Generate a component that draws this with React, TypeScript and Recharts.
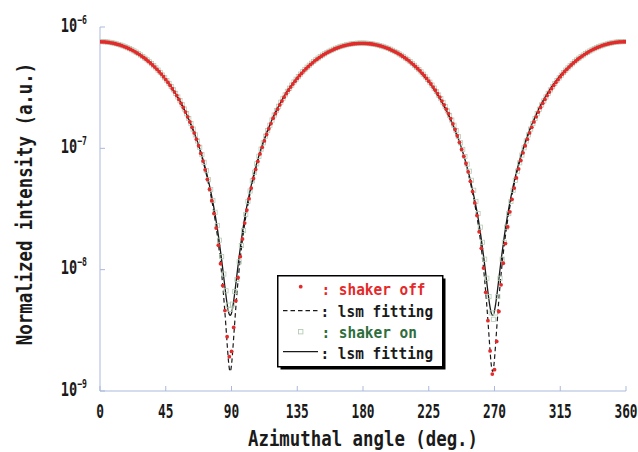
import React from 'react';
import { ComposedChart, Scatter, Line, XAxis, YAxis } from 'recharts';

// Azimuthal angle (deg.) of the "shaker off" points
const offAngles = [
  0, 1.5, 3, 4.5, 6, 7.5, 9, 10.5, 12, 13.5, 15, 16.5, 18, 19.5, 21, 22.5, 24, 25.5, 27, 28.5,
  30, 31.5, 33, 34.5, 36, 37.5, 39, 40.5, 42, 43.5, 45, 46.5, 48, 49.5, 51, 52.5, 54, 55.5, 57, 58.5,
  60, 61.5, 63, 64.5, 66, 67.5, 69, 70.5, 72, 73.5, 75, 76.5, 78, 79.5, 81, 82.5, 84, 85.5, 87, 88.5,
  90, 91.5, 93, 94.5, 96, 97.5, 99, 100.5, 102, 103.5, 105, 106.5, 108, 109.5, 111, 112.5, 114, 115.5, 117, 118.5,
  120, 121.5, 123, 124.5, 126, 127.5, 129, 130.5, 132, 133.5, 135, 136.5, 138, 139.5, 141, 142.5, 144, 145.5, 147, 148.5,
  150, 151.5, 153, 154.5, 156, 157.5, 159, 160.5, 162, 163.5, 165, 166.5, 168, 169.5, 171, 172.5, 174, 175.5, 177, 178.5,
  180, 181.5, 183, 184.5, 186, 187.5, 189, 190.5, 192, 193.5, 195, 196.5, 198, 199.5, 201, 202.5, 204, 205.5, 207, 208.5,
  210, 211.5, 213, 214.5, 216, 217.5, 219, 220.5, 222, 223.5, 225, 226.5, 228, 229.5, 231, 232.5, 234, 235.5, 237, 238.5,
  240, 241.5, 243, 244.5, 246, 247.5, 249, 250.5, 252, 253.5, 255, 256.5, 258, 259.5, 261, 262.5, 264, 265.5, 267, 268.5,
  270, 271.5, 273, 274.5, 276, 277.5, 279, 280.5, 282, 283.5, 285, 286.5, 288, 289.5, 291, 292.5, 294, 295.5, 297, 298.5,
  300, 301.5, 303, 304.5, 306, 307.5, 309, 310.5, 312, 313.5, 315, 316.5, 318, 319.5, 321, 322.5, 324, 325.5, 327, 328.5,
  330, 331.5, 333, 334.5, 336, 337.5, 339, 340.5, 342, 343.5, 345, 346.5, 348, 349.5, 351, 352.5, 354, 355.5, 357, 358.5,
  360,
];
// Normalized intensity of "shaker off", in units of 1e-9
const offValues = [
  756, 755, 753, 750, 746, 741, 735, 728, 720, 711, 701, 690, 679, 666, 653, 639, 624, 609, 593, 576,
  559, 542, 523, 505, 486, 467, 448, 428, 409, 389, 369, 349, 330, 310, 291, 272, 253, 235, 217, 199,
  182, 165, 149, 134, 119, 105, 91, 78.5, 66.5, 55.5, 46, 37, 29, 22, 15.9, 11.2, 7.4, 4.6, 2.8, 1.92,
  2.12, 3.34, 5.54, 8.6, 12.8, 17.9, 24.2, 31, 38.5, 47, 56.5, 67, 78, 90, 102, 115, 130, 145, 160, 177,
  193, 210, 228, 245, 264, 282, 301, 320, 339, 358, 377, 397, 415, 435, 453, 471, 490, 507, 526, 542,
  559, 575, 591, 605, 620, 633, 646, 659, 669, 680, 690, 698, 706, 713, 719, 724, 728, 730, 732, 733,
  733, 732, 730, 728, 724, 719, 713, 706, 698, 690, 680, 669, 659, 646, 633, 620, 605, 591, 575, 559,
  542, 526, 507, 490, 471, 453, 435, 415, 397, 377, 358, 339, 320, 301, 282, 264, 245, 228, 210, 193,
  176, 159, 143, 127, 112, 98, 86, 75, 64, 53.5, 44, 35.5, 27.9, 20.5, 15, 10.3, 6.5, 3.8, 2.14, 1.38,
  1.5, 2.56, 4.52, 7.5, 11.3, 16.4, 22.5, 30, 38, 47, 57, 67.7, 79.4, 91.8, 105, 119, 134, 149, 165, 182,
  199, 217, 235, 253, 272, 291, 310, 330, 349, 369, 389, 409, 428, 448, 467, 486, 505, 523, 542, 559,
  576, 593, 609, 624, 639, 653, 666, 679, 690, 701, 711, 720, 728, 735, 741, 746, 750, 753, 755, 756,
  756,
];

// Azimuthal angle (deg.) of the "shaker on" points
const onAngles = [
  0.75, 2.25, 3.75, 5.25, 6.75, 8.25, 9.75, 11.25, 12.75, 14.25, 15.75, 17.25, 18.75, 20.25, 21.75, 23.25, 24.75, 26.25, 27.75, 29.25,
  30.75, 32.25, 33.75, 35.25, 36.75, 38.25, 39.75, 41.25, 42.75, 44.25, 45.75, 47.25, 48.75, 50.25, 51.75, 53.25, 54.75, 56.25, 57.75, 59.25,
  60.75, 62.25, 63.75, 65.25, 66.75, 68.25, 69.75, 71.25, 72.75, 74.25, 75.75, 77.25, 78.75, 80.25, 81.75, 83.25, 84.75, 86.25, 87.75, 89.25,
  90.75, 92.25, 93.75, 95.25, 96.75, 98.25, 99.75, 101.25, 102.75, 104.25, 105.75, 107.25, 108.75, 110.25, 111.75, 113.25, 114.75, 116.25, 117.75, 119.25,
  120.75, 122.25, 123.75, 125.25, 126.75, 128.25, 129.75, 131.25, 132.75, 134.25, 135.75, 137.25, 138.75, 140.25, 141.75, 143.25, 144.75, 146.25, 147.75, 149.25,
  150.75, 152.25, 153.75, 155.25, 156.75, 158.25, 159.75, 161.25, 162.75, 164.25, 165.75, 167.25, 168.75, 170.25, 171.75, 173.25, 174.75, 176.25, 177.75, 179.25,
  180.75, 182.25, 183.75, 185.25, 186.75, 188.25, 189.75, 191.25, 192.75, 194.25, 195.75, 197.25, 198.75, 200.25, 201.75, 203.25, 204.75, 206.25, 207.75, 209.25,
  210.75, 212.25, 213.75, 215.25, 216.75, 218.25, 219.75, 221.25, 222.75, 224.25, 225.75, 227.25, 228.75, 230.25, 231.75, 233.25, 234.75, 236.25, 237.75, 239.25,
  240.75, 242.25, 243.75, 245.25, 246.75, 248.25, 249.75, 251.25, 252.75, 254.25, 255.75, 257.25, 258.75, 260.25, 261.75, 263.25, 264.75, 266.25, 267.75, 269.25,
  270.75, 272.25, 273.75, 275.25, 276.75, 278.25, 279.75, 281.25, 282.75, 284.25, 285.75, 287.25, 288.75, 290.25, 291.75, 293.25, 294.75, 296.25, 297.75, 299.25,
  300.75, 302.25, 303.75, 305.25, 306.75, 308.25, 309.75, 311.25, 312.75, 314.25, 315.75, 317.25, 318.75, 320.25, 321.75, 323.25, 324.75, 326.25, 327.75, 329.25,
  330.75, 332.25, 333.75, 335.25, 336.75, 338.25, 339.75, 341.25, 342.75, 344.25, 345.75, 347.25, 348.75, 350.25, 351.75, 353.25, 354.75, 356.25, 357.75, 359.25,
];
// Normalized intensity of "shaker on", in units of 1e-9
const onValues = [
  759, 757, 755, 751, 747, 741, 734, 727, 718, 709, 699, 687, 675, 663, 649, 635, 620, 604, 588, 571,
  553, 536, 517, 499, 480, 461, 441, 422, 402, 382, 362, 343, 323, 304, 284, 265, 247, 229, 211, 193,
  176, 160, 144, 129, 115, 102, 88.7, 76.7, 65.5, 55.2, 45.8, 37.2, 29.7, 23.1, 17.5, 12.8, 9.2, 6.7, 5.1, 4.7,
  5.2, 6.6, 8.3, 11.6, 15.8, 21, 28.5, 36.5, 44.5, 54, 63.5, 74.5, 86, 98.5, 111, 126, 140, 155, 171, 188,
  205, 222, 240, 258, 276, 295, 313, 332, 352, 371, 390, 409, 428, 447, 466, 484, 502, 520, 537, 554,
  570, 586, 601, 616, 630, 643, 655, 667, 678, 688, 697, 705, 713, 719, 724, 729, 732, 735, 736, 737,
  736, 735, 732, 728, 724, 718, 712, 704, 696, 687, 677, 666, 655, 642, 629, 615, 600, 585, 569, 553,
  536, 519, 501, 483, 465, 446, 427, 408, 389, 370, 351, 332, 313, 294, 275, 257, 239, 221, 204, 187,
  171, 155, 140, 125, 111, 98, 85.7, 74, 64.8, 54.5, 45.1, 36.5, 29, 22.4, 16.8, 12.2, 8.5, 6, 4.4, 3.9,
  4.4, 6, 8.5, 12.2, 16.8, 22.4, 29, 36.5, 45.1, 54.5, 64.8, 76, 88, 101, 115, 129, 144, 160, 176, 193,
  210, 228, 246, 265, 284, 303, 322, 342, 362, 381, 401, 421, 441, 460, 479, 498, 517, 535, 553, 570,
  587, 603, 619, 634, 648, 662, 675, 687, 698, 708, 718, 726, 734, 740, 746, 751, 754, 757, 758, 759,
];

// Angles along the two lsm fitting curves
const fitAngles = [
  0, 4.1, 9.1, 14.1, 19.1, 24.1, 29.1, 34.1, 39.1, 44.1, 49.1, 54.1, 59.1, 64.1, 69.1, 73.1, 76.1, 79.1, 81.1, 83.1,
  84.1, 85.1, 86.1, 87.1, 87.6, 88.1, 88.6, 89.1,
  89.6, 90.1, 90.6, 91.1, 92.1, 93.1, 94.1, 95.1, 97.1, 99.1, 102.1, 105.1, 109.1, 114.1, 119.1, 124.1, 129.1, 134.1,
  139.1, 144.1, 149.1, 154.1, 159.1, 164.1, 169.1, 174.1, 178.9,
  183.7, 188.7, 193.7, 198.7, 203.7, 208.7, 213.7, 218.7, 223.7, 228.7, 233.7, 238.7, 243.7, 248.7, 252.7, 255.7,
  258.7, 260.7, 262.7, 263.7, 264.7, 265.7, 266.7, 267.2, 267.7, 268.2, 268.7,
  269.2, 269.7, 270.2, 270.7, 271.7, 272.7, 273.7, 274.7, 276.7, 278.7, 281.7, 284.7, 288.7, 293.7, 298.7, 303.7,
  308.7, 313.7, 318.7, 323.7, 328.7, 333.7, 338.7, 343.7, 348.7, 353.7, 360,
];
// lsm fitting of "shaker off" (dashed), units of 1e-9
const fitOffValues = [
  756, 751, 734, 706, 668, 622, 568, 508, 444, 379, 313, 250, 190, 136, 89.7, 58.8, 39.6, 24.2, 16.1, 9.7,
  7.19, 5.12, 3.52, 2.37, 1.97, 1.68, 1.51, 1.45,
  1.51, 1.68, 1.97, 2.37, 3.52, 5.12, 7.19, 9.7, 16.1, 24.2, 39.0, 57.5, 87.2, 132, 185, 243, 304, 368,
  431, 493, 551, 604, 649, 685, 712, 729, 733,
  729, 712, 685, 649, 604, 551, 493, 431, 368, 304, 243, 185, 132, 87.2, 57.5, 39.0,
  24.2, 16.1, 9.7, 7.19, 5.12, 3.52, 2.37, 1.97, 1.68, 1.51, 1.45,
  1.51, 1.68, 1.97, 2.37, 3.52, 5.12, 7.19, 9.7, 16.1, 24.2, 39.6, 58.8, 89.7, 136, 190, 250,
  313, 379, 444, 508, 568, 622, 668, 706, 734, 751, 756,
];
// lsm fitting of "shaker on" (solid), units of 1e-9
const fitOnValues = [
  759, 753, 736, 709, 671, 624, 570, 511, 447, 382, 316, 253, 193, 139, 92.5, 61.6, 42.4, 27.0, 18.8, 12.45,
  9.93, 7.87, 6.27, 5.12, 4.72, 4.43, 4.26, 4.2,
  4.26, 4.43, 4.72, 5.12, 6.27, 7.87, 9.93, 12.45, 18.8, 27.0, 41.3, 59.9, 89.9, 135, 187, 245, 307, 371,
  434, 496, 554, 606, 652, 688, 715, 732, 737,
  732, 715, 688, 652, 606, 554, 496, 434, 371, 307, 245, 187, 135, 89.9, 59.9, 41.3,
  27.0, 18.8, 12.45, 9.93, 7.87, 6.27, 5.12, 4.72, 4.43, 4.26, 4.2,
  4.26, 4.43, 4.72, 5.12, 6.27, 7.87, 9.93, 12.45, 18.8, 27.0, 42.4, 61.6, 92.5, 139, 193, 253,
  316, 382, 447, 511, 570, 624, 671, 709, 736, 753, 759,
];

const xTicks = [0, 45, 90, 135, 180, 225, 270, 315, 360];
const yTicks = [1e-9, 1e-8, 1e-7, 1e-6];

const legendLabels = [': shaker off', ': lsm fitting', ': shaker on', ': lsm fitting'];

const toRows = (a: number[], v: number[]) => a.map((angle, i) => ({ angle, v: v[i] * 1e-9 }));
const offRows = toRows(offAngles, offValues);
const onRows = toRows(onAngles, onValues);
const fitOffRows = toRows(fitAngles, fitOffValues);
const fitOnRows = toRows(fitAngles, fitOnValues);

const MONO = "'DejaVu Sans Mono', 'Liberation Mono', monospace";
const AX = '#a9b9dd';
const RED = '#e42a2a';
const GREEN_TXT = '#2e6e3c';
const GREEN_PT = '#b4cbb4';
const INK = '#1a1a1a';

function XTick(p: any) {
  const { x, y, payload } = p;
  return (
    <text
      transform={`translate(${x},${y + 12}) scale(0.64,1)`}
      textAnchor="middle"
      fontFamily={MONO}
      fontWeight="bold"
      fontSize={20}
      fill={INK}
    >
      {payload.value}
    </text>
  );
}

function YTick(p: any) {
  const { x, y, payload } = p;
  const e = Math.round(Math.log10(payload.value));
  return (
    <text
      transform={`translate(${x},${y + 4.5}) scale(0.68,1)`}
      textAnchor="end"
      fontFamily={MONO}
      fontWeight="bold"
      fill={INK}
    >
      <tspan fontSize={20}>10</tspan>
      <tspan fontSize={12} dy={-7.8}>{`\u2212${-e}`}</tspan>
    </text>
  );
}

function XTitle(p: any) {
  const vb = p.viewBox || { x: 100, y: 391, width: 526, height: 61 };
  return (
    <text
      transform={`translate(${vb.x + vb.width / 2},${vb.y + 55}) scale(0.79,1)`}
      textAnchor="middle"
      fontFamily={MONO}
      fontWeight="bold"
      fontSize={22}
      fill={INK}
    >
      Azimuthal angle (deg.)
    </text>
  );
}

function YTitle(p: any) {
  const vb = p.viewBox || { x: 0, y: 27, width: 100, height: 364 };
  return (
    <text
      transform={`translate(${vb.x + 32},${vb.y + vb.height / 2 - 5}) rotate(-90) scale(0.79,1)`}
      textAnchor="middle"
      fontFamily={MONO}
      fontWeight="bold"
      fontSize={22}
      fill={INK}
    >
      Normalized intensity (a.u.)
    </text>
  );
}

const RedDot = (p: any) =>
  p.cx == null || p.cy == null ? <g /> : <circle cx={p.cx} cy={p.cy} r={1.9} fill={RED} />;
const GreenSquare = (p: any) =>
  p.cx == null || p.cy == null ? (
    <g />
  ) : (
    <rect x={p.cx - 2.1} y={p.cy - 2.1} width={4.2} height={4.2} fill="none" stroke={GREEN_PT} strokeWidth={0.8} />
  );

function LegendBox() {
  const rows = [
    { color: RED, textX: 44.5, base: 20 },
    { color: INK, textX: 43.5, base: 41.5 },
    { color: GREEN_TXT, textX: 44.5, base: 63 },
    { color: INK, textX: 43.5, base: 84.3 },
  ];
  return (
    <div style={{ position: 'absolute', left: 277, top: 275, width: 172, height: 98 }}>
      <svg width={172} height={98}>
        <rect x={3.5} y={3.5} width={165} height={91} fill="#000" />
        <rect x={0.75} y={0.75} width={165} height={91} fill="#fff" stroke="#000" strokeWidth={1.5} />
        <circle cx={23.7} cy={11.7} r={1.9} fill={RED} />
        <line x1={6} y1={35.7} x2={43} y2={35.7} stroke={INK} strokeWidth={1.3} strokeDasharray="4.5 3" />
        <rect x={21.5} y={54.5} width={4.4} height={4.4} fill="none" stroke={GREEN_PT} strokeWidth={0.9} />
        <line x1={6} y1={76.7} x2={41} y2={76.7} stroke={INK} strokeWidth={1.3} />
        {legendLabels.map((label, i) => (
          <text
            key={i}
            transform={`translate(${rows[i].textX},${rows[i].base}) scale(0.9,1)`}
            fontFamily={MONO}
            fontWeight="bold"
            fontSize={16}
            fill={rows[i].color}
            style={{ whiteSpace: 'pre' }}
          >
            {label}
          </text>
        ))}
      </svg>
    </div>
  );
}

export default function App() {
  return (
    <div style={{ position: 'absolute', left: 0, top: 0, width: 638, height: 452, background: '#fff' }}>
      <ComposedChart width={638} height={452} margin={{ top: 27, right: 12, bottom: 0, left: 0 }}>
        <XAxis
          xAxisId="b"
          dataKey="angle"
          type="number"
          domain={[0, 360]}
          ticks={xTicks}
          interval={0}
          height={61}
          axisLine={{ stroke: AX, strokeWidth: 1 }}
          tickLine={{ stroke: AX, strokeWidth: 1 }}
          tickSize={-5}
          tickMargin={20}
          tick={(p: any) => <XTick {...p} />}
          label={{ content: (p: any) => <XTitle {...p} /> }}
          allowDataOverflow
        />
        <XAxis
          xAxisId="t"
          orientation="top"
          type="number"
          domain={[0, 360]}
          ticks={xTicks}
          interval={0}
          height={0}
          axisLine={{ stroke: AX, strokeWidth: 1 }}
          tickLine={{ stroke: AX, strokeWidth: 1 }}
          tickSize={-5}
          tick={false}
          allowDataOverflow
        />
        <YAxis
          yAxisId="l"
          type="number"
          scale="log"
          domain={[1e-9, 1e-6]}
          ticks={yTicks}
          interval={0}
          width={100}
          axisLine={{ stroke: AX, strokeWidth: 1 }}
          tickLine={{ stroke: AX, strokeWidth: 1 }}
          tickSize={-5}
          tickMargin={18}
          tick={(p: any) => <YTick {...p} />}
          label={{ content: (p: any) => <YTitle {...p} /> }}
          allowDataOverflow
        />
        <YAxis
          yAxisId="r"
          orientation="right"
          type="number"
          scale="log"
          domain={[1e-9, 1e-6]}
          ticks={yTicks}
          interval={0}
          width={0}
          axisLine={{ stroke: AX, strokeWidth: 1 }}
          tickLine={{ stroke: AX, strokeWidth: 1 }}
          tickSize={-5}
          tick={false}
          allowDataOverflow
        />
        <Scatter
          xAxisId="b"
          yAxisId="l"
          name="shaker on"
          data={onRows}
          dataKey="v"
          shape={GreenSquare}
          isAnimationActive={false}
        />
        <Line
          xAxisId="b"
          yAxisId="l"
          name="lsm fitting (on)"
          data={fitOnRows}
          dataKey="v"
          type="monotone"
          stroke={INK}
          strokeWidth={1.3}
          dot={false}
          activeDot={false}
          isAnimationActive={false}
        />
        <Line
          xAxisId="b"
          yAxisId="l"
          name="lsm fitting (off)"
          data={fitOffRows}
          dataKey="v"
          type="monotone"
          stroke={INK}
          strokeWidth={1.2}
          strokeDasharray="4.5 3"
          dot={false}
          activeDot={false}
          isAnimationActive={false}
        />
        <Scatter
          xAxisId="b"
          yAxisId="l"
          name="shaker off"
          data={offRows}
          dataKey="v"
          shape={RedDot}
          isAnimationActive={false}
        />
      </ComposedChart>
      <LegendBox />
    </div>
  );
}
